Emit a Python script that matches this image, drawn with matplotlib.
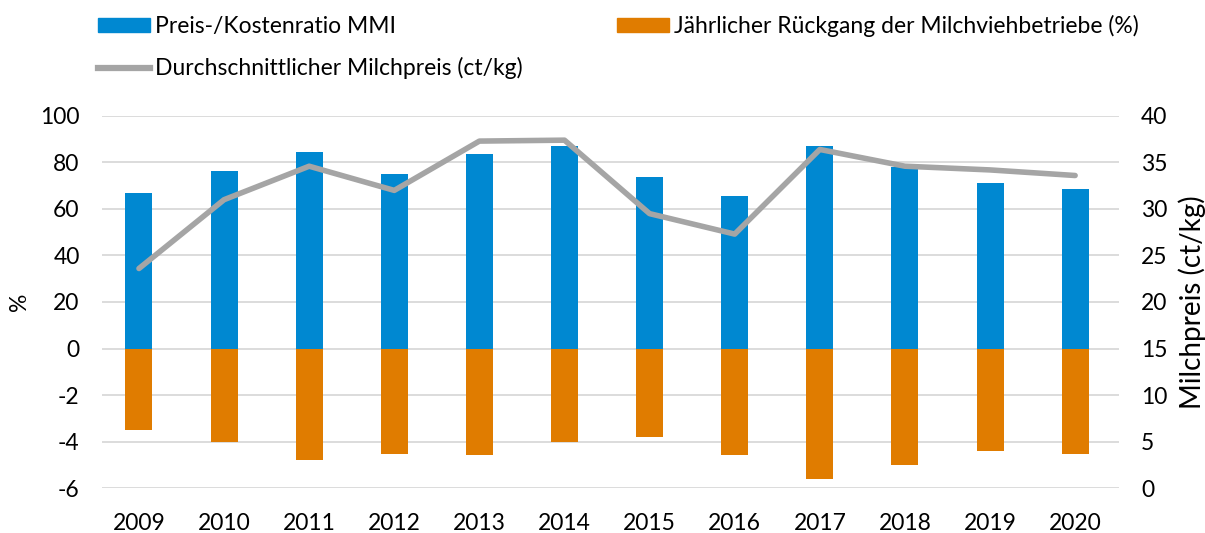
#!/usr/bin/env python3
"""
MMI Preis-/Kostenratio, Rückgang der Milchviehbetriebe und Milchpreis
"""
import matplotlib
matplotlib.use("Agg")
import matplotlib.pyplot as plt
from matplotlib.patches import Patch
from matplotlib.lines import Line2D
import numpy as np

# Daten
jahre = ['2009', '2010', '2011', '2012', '2013', '2014',
         '2015', '2016', '2017', '2018', '2019', '2020']
mmi_ratio = [67, 76.5, 84.7, 75, 83.6, 86.9, 73.7, 65.7, 86.9, 78, 71.1, 68.7]
rueckgang = [-3.5, -4.0, -4.8, -4.55, -4.6, -4.0, -3.8, -4.6, -5.6, -5.0, -4.4, -4.55]
milchpreis = [23.6, 31.0, 34.6, 32.0, 37.3, 37.4, 29.5, 27.3, 36.4, 34.6, 34.2, 33.6]

links_ticks = [-6, -4, -2, 0, 20, 40, 60, 80, 100]
rechts_ticks = [0, 5, 10, 15, 20, 25, 30, 35, 40]

BLAU = '#0088D1'
ORANGE = '#E07C00'
GRAU = '#A5A5A5'
GRID = '#D9D9D9'
FS = 16.5

plt.rcParams['font.family'] = ['Lato', 'DejaVu Sans']
plt.rcParams['font.size'] = FS


def skala(v):
    # geteilte Achse: oben 20 je Teilstrich, unten 2 je Teilstrich
    v = np.asarray(v, dtype=float)
    return np.where(v >= 0, v / 20.0, v / 2.0)


fig = plt.figure(figsize=(12.05, 5.33), dpi=100)
ax = fig.add_axes([0.0846, 0.0844, 0.844, 0.698])
ax2 = ax.twinx()

x = np.arange(len(jahre))
b = 0.317
ax.bar(x, skala(mmi_ratio), width=b, color=BLAU, zorder=2)
ax.bar(x, skala(rueckgang), width=b, color=ORANGE, zorder=2)

ax.set_ylim(-3, 5)
ax.set_yticks(skala(links_ticks))
ax.set_yticklabels([str(t) for t in links_ticks])
ax.set_xlim(-0.435, 11.515)
ax.set_xticks(x)
ax.set_xticklabels(jahre)
ax.grid(axis='y', color=GRID, linewidth=1.3, zorder=0)
ax.set_axisbelow(True)
ax.set_ylabel('%', labelpad=7, fontsize=FS)

ax2.plot(x, milchpreis, color=GRAU, linewidth=4, solid_capstyle='round', zorder=3)
ax2.set_ylim(0, 40)
ax2.set_yticks(rechts_ticks)
ax2.set_ylabel('Milchpreis (ct/kg)', labelpad=8, fontsize=20)

for a in (ax, ax2):
    for s in a.spines.values():
        s.set_visible(False)
    a.tick_params(length=0, labelsize=FS, colors='#000000')
ax.tick_params(axis='y', pad=16)
ax.tick_params(axis='x', pad=18)
ax2.tick_params(axis='y', pad=16)

handles = [Patch(color=BLAU), Line2D([], [], color=GRAU, linewidth=4.5),
           Patch(color=ORANGE)]
labels = ['Preis-/Kostenratio MMI', 'Durchschnittlicher Milchpreis (ct/kg)',
          'Jährlicher Rückgang der Milchviehbetriebe (%)']
fig.legend(handles, labels, ncol=2, loc='upper left', bbox_to_anchor=(0.0813, 0.972),
           frameon=False, fontsize=FS, handlelength=2.27, handleheight=0.55,
           handletextpad=0.22, columnspacing=4.1, labelspacing=0.88,
           borderpad=0, borderaxespad=0)

fig.savefig('out.png', dpi=100)
